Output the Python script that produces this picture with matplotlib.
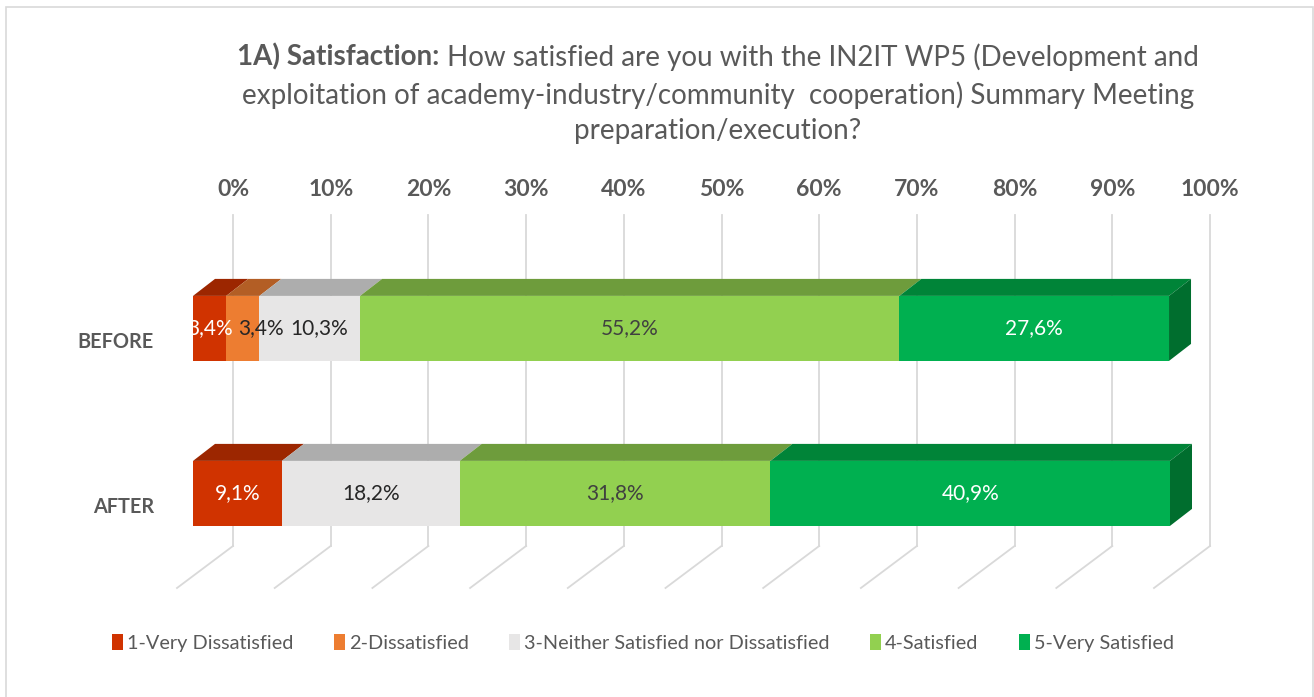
import matplotlib
matplotlib.use("Agg")
import matplotlib.pyplot as plt
from matplotlib.patches import Polygon, Patch, Rectangle
from matplotlib.lines import Line2D

# ---------------- data ----------------
categories = ["BEFORE", "AFTER"]
series_names = ["1-Very Dissatisfied", "2-Dissatisfied",
                "3-Neither Satisfied nor Dissatisfied", "4-Satisfied",
                "5-Very Satisfied"]
before_values = [3.4, 3.4, 10.3, 55.2, 27.6]
after_values = [9.1, 0.0, 18.2, 31.8, 40.9]
tick_values = [0, 10, 20, 30, 40, 50, 60, 70, 80, 90, 100]
tick_labels = ["0%", "10%", "20%", "30%", "40%", "50%", "60%", "70%", "80%", "90%", "100%"]
title_bold = "1A) Satisfaction:"
title_line1 = " How satisfied are you with the IN2IT WP5 (Development and"
title_line2 = "exploitation of academy-industry/community  cooperation) Summary Meeting"
title_line3 = "preparation/execution?"

# ---------------- style ----------------
front_colors = ["#D03300", "#ED7D31", "#E7E6E6", "#92D050", "#00B050"]
top_colors = ["#9C2600", "#B35E25", "#ADADAD", "#6E9C3C", "#008438"]
side_color = "#006E2E"
label_colors = ["white", "#262626", "#262626", "#404040", "white"]
text_gray = "#595959"
grid_gray = "#D9D9D9"
FONT = ["Lato", "DejaVu Sans"]

W, H = 1314, 697
fig = plt.figure(figsize=(W / 100, H / 100), dpi=100)
fig.patch.set_facecolor("white")
renderer = fig.canvas.get_renderer()

# axes geometry (pixels)
ax_left, ax_right = 193, 1170
ax_top, ax_bot = 140, 600
ax = fig.add_axes([ax_left / W, (H - ax_bot) / H, (ax_right - ax_left) / W, (ax_bot - ax_top) / H])
ax.axis("off")
xpx = (ax_right - ax_left) / 100.0        # pixels per x unit
ypx = 165.0                                # pixels per y unit
y0_pix = 493.4                             # pixel row of category at y=0
ax.set_xlim(0, 100)
ax.set_ylim((y0_pix - ax_bot) / ypx, (y0_pix - ax_top) / ypx)

def dx(p):
    return p / xpx

def dy(p):
    return p / ypx

cat_y = {"BEFORE": 1.0, "AFTER": 0.0}
bar_h = dy(65)
depth_x, depth_y = dx(22), dy(17)

# back wall gridlines + floor
wall_dx = dx(40)
wall_top = (y0_pix - 215) / ypx
wall_bot = (y0_pix - 546) / ypx
floor_dx = dx(-56)
floor_dy = dy(-42)
for t, lab in zip(tick_values, tick_labels):
    xb = t + wall_dx
    ax.add_line(Line2D([xb, xb], [wall_bot, wall_top], color=grid_gray, lw=1.3, zorder=0, clip_on=False))
    ax.add_line(Line2D([xb, xb + floor_dx], [wall_bot, wall_bot + floor_dy], color=grid_gray, lw=1.3,
                       zorder=0, clip_on=False))
    ax.text(xb, (y0_pix - 189) / ypx, lab, ha="center", va="center", fontsize=16.5, fontweight="bold",
            color=text_gray, family=FONT)

# bars
data = {"BEFORE": before_values, "AFTER": after_values}
for cat in categories:
    vals = data[cat]
    yc = cat_y[cat]
    yb, yt = yc - bar_h / 2, yc + bar_h / 2
    left = 0.0
    last_idx = max(i for i, v in enumerate(vals) if v > 0)
    prev_right_px = None
    for i, v in enumerate(vals):
        if v <= 0:
            continue
        right = left + v
        # front face
        ax.add_patch(Rectangle((left, yb), v, bar_h, facecolor=front_colors[i], edgecolor="none",
                               zorder=3, clip_on=False))
        # top face
        ax.add_patch(Polygon([(left, yt), (right, yt), (right + depth_x, yt + depth_y),
                              (left + depth_x, yt + depth_y)], closed=True,
                             facecolor=top_colors[i], edgecolor="none", zorder=2, clip_on=False))
        if i == last_idx:
            ax.add_patch(Polygon([(right, yt), (right + depth_x, yt + depth_y),
                                  (right + depth_x, yb + depth_y), (right, yb)], closed=True,
                                 facecolor=side_color, edgecolor="none", zorder=2, clip_on=False))
        lab = ax.text(left + v / 2, yc, f"{v:.1f}%".replace(".", ","), ha="center", va="center",
                      fontsize=15, color=label_colors[i], family=FONT, zorder=5)
        bb = lab.get_window_extent(renderer)
        if prev_right_px is not None and bb.x0 < prev_right_px + 6:
            shift = prev_right_px + 6 - bb.x0
            lab.set_x(left + v / 2 + dx(shift))
            bb = lab.get_window_extent(renderer)
        prev_right_px = bb.x1
        left = right
    ax.text(dx(154 - ax_left), yc - dy(13.5), cat, ha="right", va="center", fontsize=14.3,
            fontweight="bold", color=text_gray, family=FONT)

# title
title_size = 20
cx = 718 / W
tb = fig.text(0, 1 - 57 / H, title_bold, ha="left", va="center", fontsize=title_size, fontweight="bold",
              color=text_gray, family=FONT)
tn = fig.text(0, 1 - 57 / H, title_line1, ha="left", va="center", fontsize=title_size,
              color=text_gray, family=FONT)
wb = tb.get_window_extent(renderer).width
wn = tn.get_window_extent(renderer).width
start = cx * W - (wb + wn) / 2
tb.set_x(start / W)
tn.set_x((start + wb) / W)
fig.text(cx, 1 - 95 / H, title_line2, ha="center", va="center", fontsize=title_size,
         color=text_gray, family=FONT)
fig.text(cx, 1 - 131 / H, title_line3, ha="center", va="center", fontsize=title_size,
         color=text_gray, family=FONT)

# legend
handles = [Patch(facecolor=c, edgecolor="none", label=n) for c, n in zip(front_colors, series_names)]
fig.legend(handles=handles, loc="center", bbox_to_anchor=(643 / W, 1 - 643 / H), ncol=5, frameon=False,
           handlelength=0.55, handleheight=0.85, handletextpad=0.2, columnspacing=2.05,
           prop={"family": FONT, "size": 14.3}, labelcolor=text_gray)

# chart border
fig.add_artist(Rectangle((6 / W, -0.02), (1312.5 - 6) / W, (H - 7) / H + 0.02, transform=fig.transFigure,
                         fill=False, edgecolor=grid_gray, lw=1.2))

fig.savefig("out.png", dpi=100, facecolor="white")
